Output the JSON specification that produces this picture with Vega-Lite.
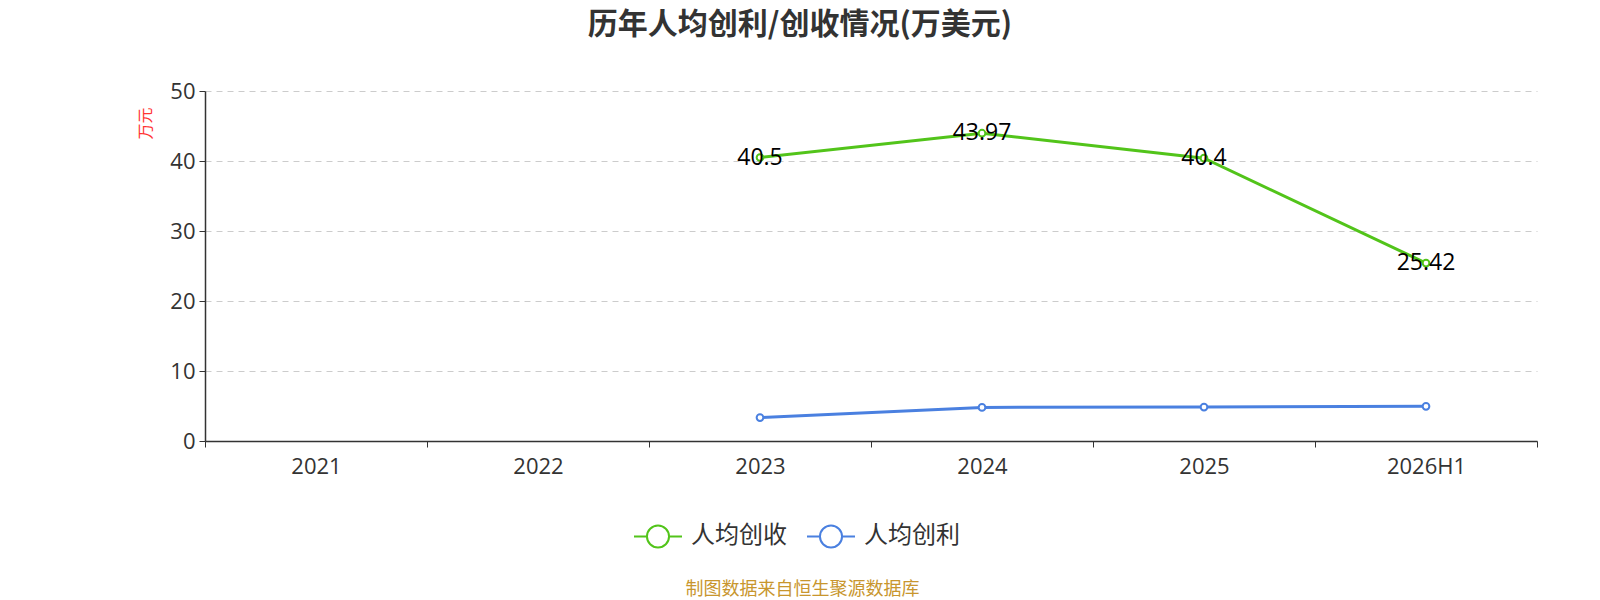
{
  "$schema": "https://vega.github.io/schema/vega-lite/v6.json",
  "description": "历年人均创利/创收情况",
  "autosize": {"type": "none"},
  "width": 1332,
  "height": 350,
  "padding": {"left": 205, "top": 91, "right": 63, "bottom": 159},
  "config": {
    "font": "Noto Sans CJK SC",
    "view": {"stroke": null}
  },
  "title": {
    "text": "历年人均创利/创收情况(万美元)",
    "anchor": "middle",
    "frame": "group",
    "dx": -71,
    "offset": 40,
    "fontSize": 30,
    "fontWeight": "bold",
    "color": "#333333"
  },
  "data": {
    "values": [
      {"year": "2023", "metric": "人均创收", "value": 40.5},
      {"year": "2024", "metric": "人均创收", "value": 43.97},
      {"year": "2025", "metric": "人均创收", "value": 40.4},
      {"year": "2026H1", "metric": "人均创收", "value": 25.42},
      {"year": "2023", "metric": "人均创利", "value": 3.35},
      {"year": "2024", "metric": "人均创利", "value": 4.8},
      {"year": "2025", "metric": "人均创利", "value": 4.85},
      {"year": "2026H1", "metric": "人均创利", "value": 4.95}
    ]
  },
  "encoding": {
    "x": {
      "field": "year",
      "type": "nominal",
      "bandPosition": 0.5,
      "scale": {"type": "band", "domain": ["2021", "2022", "2023", "2024", "2025", "2026H1"], "paddingInner": 0, "paddingOuter": 0},
      "axis": {
        "title": "制图数据来自恒生聚源数据库",
        "titleColor": "#c8962e",
        "titleFontSize": 18,
        "titleFontWeight": "normal",
        "titleX": 597,
        "titleY": 148,
        "titleAlign": "center",
        "titleBaseline": "middle",
        "labelAngle": 0,
        "labelFont": "Open Sans",
        "labelFontSize": 22,
        "labelColor": "#333333",
        "labelPadding": 9,
        "tickBand": "extent",
        "tickSize": 6,
        "tickColor": "#333333",
        "domainColor": "#333333",
        "domainWidth": 1.5,
        "grid": false
      }
    },
    "y": {
      "field": "value",
      "type": "quantitative",
      "scale": {"domain": [0, 50], "nice": false},
      "axis": {
        "title": "万元",
        "titleColor": "#ff3333",
        "titleFontSize": 16,
        "titleFontWeight": "normal",
        "titleAngle": -90,
        "titleX": -60,
        "titleY": 32,
        "titleAlign": "center",
        "titleBaseline": "middle",
        "values": [0, 10, 20, 30, 40, 50],
        "labelFont": "Open Sans",
        "labelFontSize": 22,
        "labelColor": "#333333",
        "labelPadding": 4,
        "tickSize": 6,
        "tickColor": "#333333",
        "domainColor": "#333333",
        "domainWidth": 1.5,
        "gridColor": "#cccccc",
        "gridDash": [6, 5],
        "gridWidth": 1
      }
    },
    "stroke": {
      "field": "metric",
      "type": "nominal",
      "scale": {"domain": ["人均创收", "人均创利"], "range": ["#52c41a", "#4a80e0"]},
      "legend": {
        "title": null,
        "orient": "none",
        "direction": "horizontal",
        "legendX": 428,
        "legendY": 420,
        "labelFontSize": 24,
        "labelColor": "#333333",
        "symbolType": "M-1,0L-0.46,0M0.46,0L1,0M-0.46,0A0.46,0.46,0,1,1,0.46,0A0.46,0.46,0,1,1,-0.46,0",
        "symbolSize": 2304,
        "symbolStrokeWidth": 2,
        "symbolFillColor": "#ffffff",
        "columnPadding": 16,
        "labelOffset": 8,
        "encode": {"symbols": {"update": {"fill": {"value": "#ffffff"}}}}
      }
    }
  },
  "layer": [
    {"mark": {"type": "line", "strokeWidth": 3}},
    {"mark": {"type": "point", "filled": false, "fill": "#ffffff", "fillOpacity": 1, "size": 45, "strokeWidth": 2, "opacity": 1}},
    {
      "transform": [{"filter": "datum.metric === '人均创收'"}],
      "mark": {"type": "text", "font": "Open Sans", "fontSize": 23, "color": "#000000", "baseline": "middle", "align": "center"},
      "encoding": {"text": {"field": "value", "type": "quantitative"}, "stroke": {"value": null}}
    }
  ]
}
